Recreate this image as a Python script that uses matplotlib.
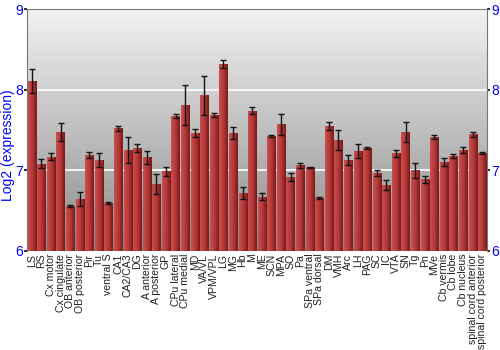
import numpy as np
import matplotlib
matplotlib.use("Agg")
import matplotlib.pyplot as plt
from matplotlib.colors import LinearSegmentedColormap

regions = ["LS", "RS", "Cx motor", "Cx cingulate", "OB anterior", "OB posterior", "Pir", "Tu",
           "ventral S", "CA1", "CA2/CA3", "DG", "A anterior", "A posterior", "GP", "CPu lateral",
           "CPu medial", "MD", "VA/VL", "VPM/VPL", "LG", "MG", "Hb", "M", "ME", "SCN", "MPA", "SO",
           "Pa", "SPa ventral", "SPa dorsal", "DM", "VMH", "Arc", "LH", "PAG", "SC", "IC", "VTA",
           "SN", "Tg", "Pn", "MVe", "Cb vermis", "Cb lobe", "Cb nucleus", "spinal cord anterior",
           "spinal cord posterior"]
values = [8.11, 7.08, 7.17, 7.475, 6.555, 6.645, 7.19, 7.13, 6.595, 7.52, 7.25, 7.277, 7.16, 6.83,
          6.99, 7.674, 7.81, 7.463, 7.93, 7.69, 8.32, 7.463, 6.72, 7.74, 6.674, 7.43, 7.574, 6.92,
          7.062, 7.037, 6.657, 7.55, 7.376, 7.128, 7.24, 7.277, 6.967, 6.82, 7.21, 7.475, 7.0, 6.89,
          7.413, 7.107, 7.178, 7.25, 7.446, 7.215]
errors = [0.15, 0.056, 0.04, 0.11, 0.015, 0.085, 0.035, 0.085, 0.008, 0.035, 0.16, 0.055, 0.077,
          0.12, 0.055, 0.03, 0.25, 0.05, 0.245, 0.025, 0.05, 0.08, 0.07, 0.04, 0.04, 0.012, 0.13,
          0.047, 0.033, 0.004, 0.016, 0.055, 0.12, 0.058, 0.083, 0.015, 0.033, 0.064, 0.047, 0.12,
          0.093, 0.044, 0.02, 0.05, 0.022, 0.04, 0.033, 0.008]
y_ticks = [6, 7, 8, 9]

plt.rcParams["font.family"] = ["Liberation Sans", "DejaVu Sans"]

fig = plt.figure(figsize=(5, 3.5), dpi=100)
ax = fig.add_axes([0.054, 0.283, 0.92, 0.691])
n = len(regions)
x = np.arange(n)
ymin, ymax = 6, 9
ax.set_xlim(-0.5, n - 0.5)
ax.set_ylim(ymin, ymax)

# background vertical gradient
bg = LinearSegmentedColormap.from_list("bg", ["#8c8c8c", "#f2f2f2"])
grad = np.linspace(0, 1, 256).reshape(-1, 1)
ax.imshow(grad, extent=[-0.5, n - 0.5, ymin, ymax], origin="lower", cmap=bg,
          aspect="auto", zorder=0)

for yv in [7, 8]:
    ax.axhline(yv, color="white", lw=1.2, zorder=1)

barcmap = LinearSegmentedColormap.from_list("bar", ["#cc4d4d", "#b33a3a", "#7a1818"])
hgrad = np.linspace(0, 1, 64).reshape(1, -1)
width = 0.86
bars = ax.bar(x, [v - ymin for v in values], bottom=ymin, width=width,
              color="#aa3030", edgecolor="none", zorder=2)
for b in bars:
    bx, by = b.get_x(), b.get_y()
    bw, bh = b.get_width(), b.get_height()
    im = ax.imshow(hgrad, extent=[bx, bx + bw, by, by + bh], cmap=barcmap,
                   aspect="auto", zorder=2.5)
    im.set_clip_path(b)

ax.errorbar(x, values, yerr=errors, fmt="none", ecolor="#111111", elinewidth=1,
            capsize=2, capthick=1, zorder=3)

ax.set_yticks(y_ticks)
ax.set_yticklabels([str(t) for t in y_ticks], color="blue", fontsize=10)
ax.tick_params(axis="y", which="both", left=True, right=True, labelleft=True,
               labelright=True, length=2.5, width=1.5, color="#333333", pad=0.5)
ax.set_xticks(x)
ax.set_xticklabels(regions, rotation=90, fontsize=7.6, color="#222222")
ax.tick_params(axis="x", length=0, pad=2)
fig.text(8 / 500, 1 - 145 / 350, "Log2 (expression)", color="blue", fontsize=10,
         rotation=90, ha="center", va="center")

for side in ["left", "top", "right"]:
    ax.spines[side].set_color("#777777")
ax.spines["bottom"].set_visible(False)

fig.savefig("out.png", dpi=100)
